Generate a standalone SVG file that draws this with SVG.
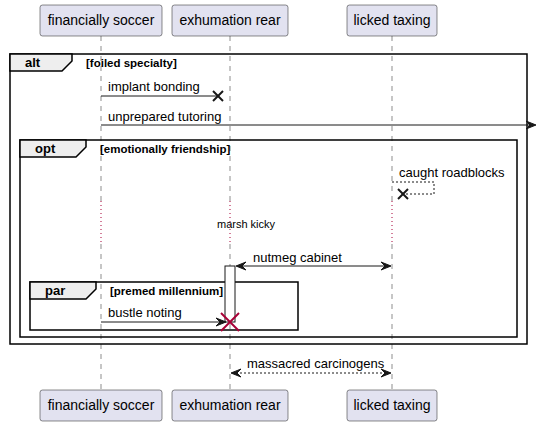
<svg xmlns="http://www.w3.org/2000/svg" width="537" height="427" viewBox="0 0 537 427">
<style>
.box{fill:#E2E2F0;stroke:#181818;stroke-width:0.5}
.pt{font-family:"Liberation Sans",Arial,sans-serif;font-size:14px;fill:#000}
.life{stroke:#181818;stroke-width:0.5;stroke-dasharray:5,5;fill:none}
.delay{stroke:#A80036;stroke-width:1;stroke-dasharray:1,3;fill:none}
.frame{fill:none;stroke:#000;stroke-width:1.5}
.tab{fill:#EEEEEE;stroke:#000;stroke-width:1.5}
.gl{font-family:"Liberation Sans",Arial,sans-serif;font-size:13px;font-weight:bold;fill:#000}
.gc{font-family:"Liberation Sans",Arial,sans-serif;font-size:11.5px;font-weight:bold;fill:#000}
.msg{stroke:#181818;stroke-width:1;fill:none}
.dash{stroke:#181818;stroke-width:1;stroke-dasharray:2,2;fill:none}
.mt{font-family:"Liberation Sans",Arial,sans-serif;font-size:13px;fill:#000}
.head{fill:#181818;stroke:#181818;stroke-width:1}
.x{stroke:#181818;stroke-width:2}
.rx{stroke:#A80036;stroke-width:2}
</style>
<g id="lifelines">
<line class="life" x1="101" y1="36" x2="101" y2="201"/>
<line class="delay" x1="101" y1="201" x2="101" y2="244"/>
<line class="life" x1="101" y1="244" x2="101" y2="390"/>
<line class="life" x1="230" y1="36" x2="230" y2="201"/>
<line class="delay" x1="230" y1="201" x2="230" y2="244"/>
<line class="life" x1="230" y1="244" x2="230" y2="390"/>
<line class="life" x1="392" y1="36" x2="392" y2="201"/>
<line class="delay" x1="392" y1="201" x2="392" y2="244"/>
<line class="life" x1="392" y1="244" x2="392" y2="390"/>
</g>
<g id="p-financially-soccer">
<rect class="box" x="40" y="5" width="122" height="31" rx="2.5"/>
<text class="pt" x="101" y="25" text-anchor="middle">financially soccer</text>
<rect class="box" x="40" y="390" width="122" height="31" rx="2.5"/>
<text class="pt" x="101" y="410" text-anchor="middle">financially soccer</text>
</g>
<g id="p-exhumation-rear">
<rect class="box" x="172" y="5" width="116" height="31" rx="2.5"/>
<text class="pt" x="230" y="25" text-anchor="middle">exhumation rear</text>
<rect class="box" x="172" y="390" width="116" height="31" rx="2.5"/>
<text class="pt" x="230" y="410" text-anchor="middle">exhumation rear</text>
</g>
<g id="p-licked-taxing">
<rect class="box" x="347" y="5" width="90" height="31" rx="2.5"/>
<text class="pt" x="392" y="25" text-anchor="middle">licked taxing</text>
<rect class="box" x="347" y="390" width="90" height="31" rx="2.5"/>
<text class="pt" x="392" y="410" text-anchor="middle">licked taxing</text>
</g>
<g id="group-alt">
<rect class="frame" x="10" y="54" width="517" height="290"/>
<polygon class="tab" points="10,54 72,54 72,61 62,71 10,71"/>
<text class="gl" x="25" y="67">alt</text>
<text class="gc" x="86" y="67">[foiled specialty]</text>
</g>
<g id="group-opt">
<rect class="frame" x="20" y="140" width="497" height="197"/>
<polygon class="tab" points="20,140 86,140 86,147 76,157 20,157"/>
<text class="gl" x="35" y="153">opt</text>
<text class="gc" x="100" y="153">[emotionally friendship]</text>
</g>
<g id="group-par">
<rect class="frame" x="30" y="282" width="268" height="48"/>
<polygon class="tab" points="30,282 96,282 96,289 86,299 30,299"/>
<text class="gl" x="45" y="295">par</text>
<text class="gc" x="110" y="295">[premed millennium]</text>
</g>
<g id="activation">
<rect x="225" y="266" width="10" height="56" fill="#FFFFFF" stroke="#181818" stroke-width="1"/>
</g>
<g id="connectors">
<line class="msg" x1="101" y1="96" x2="218" y2="96"/>
<line class="x" x1="213" y1="91" x2="223" y2="101"/>
<line class="x" x1="213" y1="101" x2="223" y2="91"/>
<text class="mt" x="108" y="91">implant bonding</text>

<line class="msg" x1="101" y1="125" x2="534" y2="125"/>
<polygon class="head" points="526,121 536,125 526,129 530,125"/>
<text class="mt" x="108" y="121">unprepared tutoring</text>

<polyline class="dash" points="392,182 434,182 434,194 404,194"/>
<line class="x" x1="398" y1="189" x2="408" y2="199"/>
<line class="x" x1="398" y1="199" x2="408" y2="189"/>
<text class="mt" x="399" y="177">caught roadblocks</text>

<text x="246" y="228" text-anchor="middle" font-family="'Liberation Sans',Arial,sans-serif" font-size="11" fill="#000">marsh kicky</text>

<line class="msg" x1="237" y1="266" x2="390" y2="266"/>
<polygon class="head" points="246,262 236,266 246,270 242,266"/>
<polygon class="head" points="381,262 391,266 381,270 385,266"/>
<text class="mt" x="253" y="262">nutmeg cabinet</text>

<line class="msg" x1="101" y1="322" x2="224" y2="322"/>
<polygon class="head" points="216,318 226,322 216,326 220,322"/>
<line class="rx" x1="221" y1="313" x2="239" y2="331"/>
<line class="rx" x1="221" y1="331" x2="239" y2="313"/>
<text class="mt" x="108" y="317">bustle noting</text>

<line class="dash" x1="232" y1="373" x2="390" y2="373"/>
<polygon class="head" points="241,369 231,373 241,377 237,373"/>
<polygon class="head" points="381,369 391,373 381,377 385,373"/>
<text class="mt" x="247" y="368">massacred carcinogens</text>
</g>
</svg>
